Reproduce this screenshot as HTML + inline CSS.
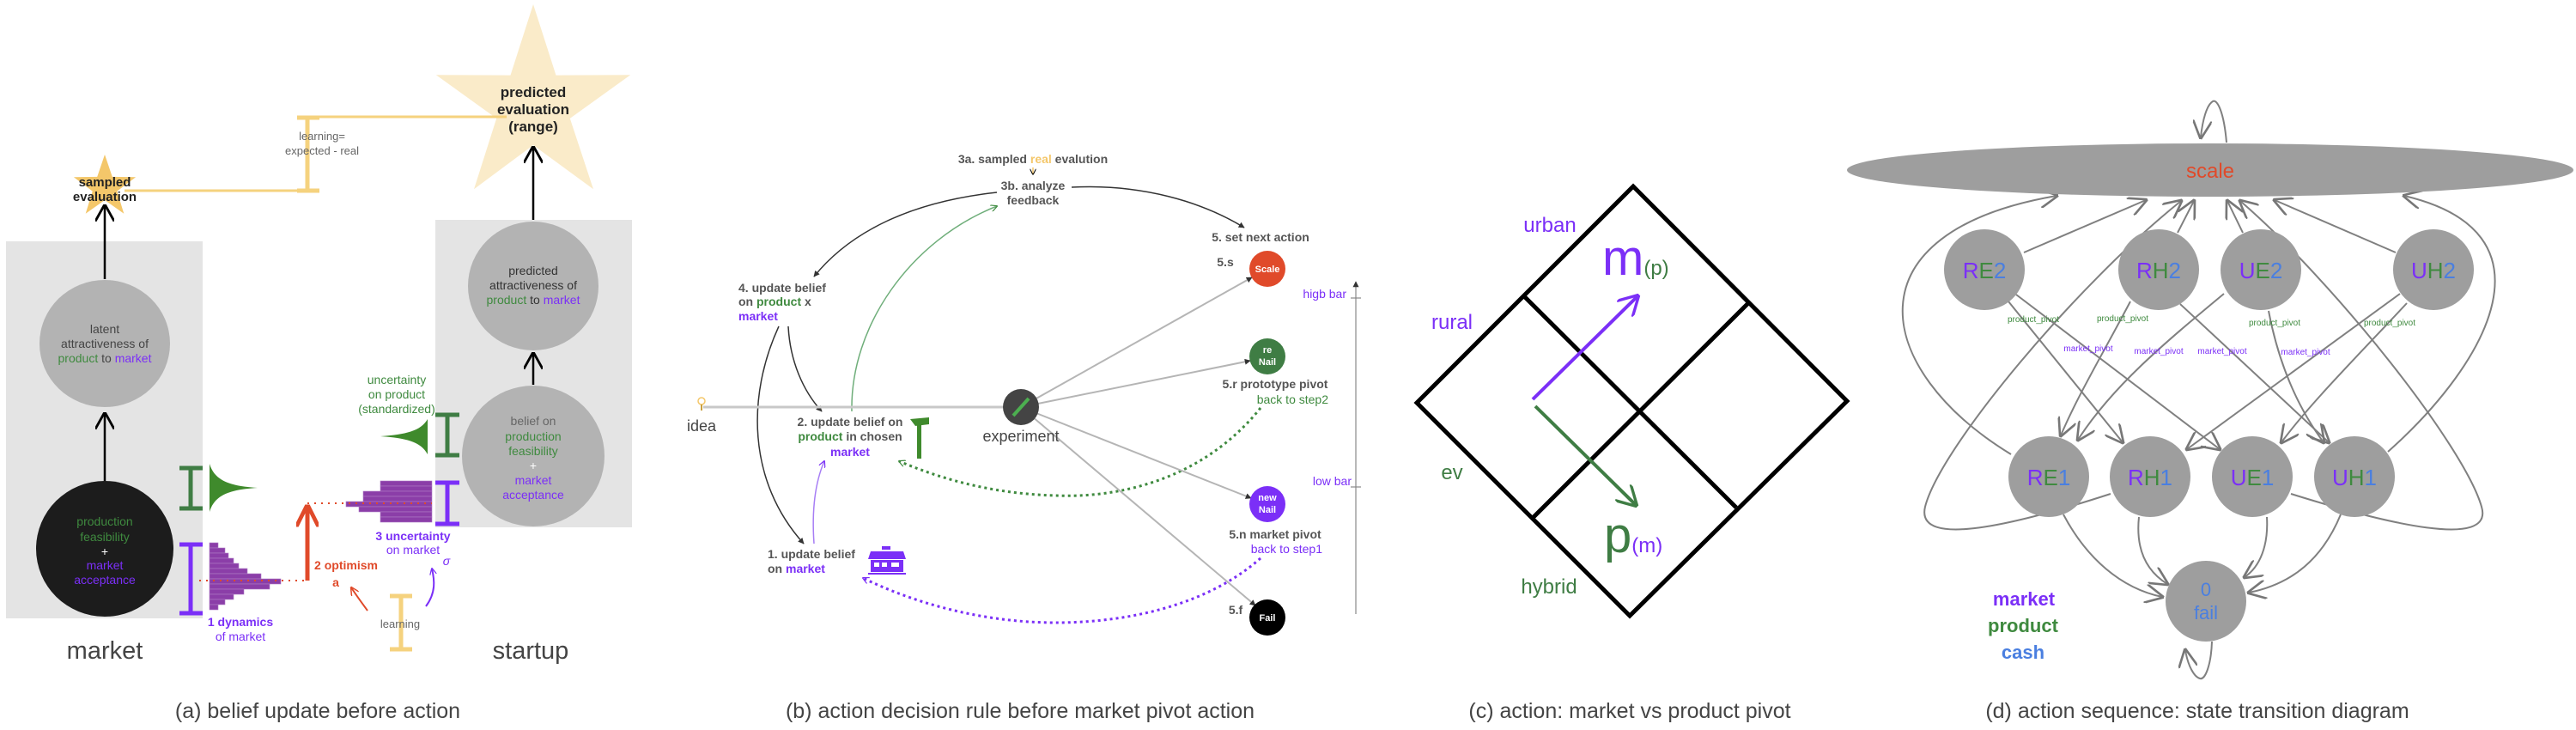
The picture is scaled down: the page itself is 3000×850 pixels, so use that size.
<!DOCTYPE html>
<html><head><meta charset="utf-8"><style>
html,body{margin:0;padding:0;background:#fff;width:3000px;height:850px;overflow:hidden}
svg{display:block}
text{font-family:"Liberation Sans",sans-serif}
</style></head><body>
<svg width="3000" height="850" viewBox="0 0 3000 850" xmlns="http://www.w3.org/2000/svg">
<defs>
<marker id="ab" viewBox="0 0 10 10" refX="9" refY="5" markerWidth="7" markerHeight="7" orient="auto-start-reverse" markerUnits="userSpaceOnUse"><path d="M0,0 L10,5 L0,10" fill="none" stroke="#000" stroke-width="1.5"/></marker>
<marker id="abig" viewBox="0 0 10 10" refX="9" refY="5" markerWidth="22" markerHeight="22" orient="auto" markerUnits="userSpaceOnUse"><path d="M1,0 L10,5 L1,10" fill="none" stroke="#000" stroke-width="1.3"/></marker>
<marker id="ag" viewBox="0 0 10 10" refX="9" refY="5" markerWidth="22" markerHeight="22" orient="auto" markerUnits="userSpaceOnUse"><path d="M0,0 L10,5 L0,10" fill="none" stroke="#777" stroke-width="1.2"/></marker>
<marker id="agr" viewBox="0 0 10 10" refX="9" refY="5" markerWidth="8" markerHeight="8" orient="auto" markerUnits="userSpaceOnUse"><path d="M0,0 L10,5 L0,10" fill="none" stroke="#3f8a3f" stroke-width="1.5"/></marker>
<marker id="apu" viewBox="0 0 10 10" refX="9" refY="5" markerWidth="8" markerHeight="8" orient="auto" markerUnits="userSpaceOnUse"><path d="M0,0 L10,5 L0,10" fill="none" stroke="#7b2ff7" stroke-width="1.5"/></marker>
<marker id="ared" viewBox="0 0 10 10" refX="9" refY="5" markerWidth="10" markerHeight="10" orient="auto" markerUnits="userSpaceOnUse"><path d="M0,0 L10,5 L0,10" fill="none" stroke="#e04a2a" stroke-width="1.5"/></marker>
<marker id="aredbig" viewBox="0 0 10 10" refX="9" refY="5" markerWidth="26" markerHeight="26" orient="auto" markerUnits="userSpaceOnUse"><path d="M0,0 L10,5 L0,10" fill="none" stroke="#e04a2a" stroke-width="1.8"/></marker>
<marker id="agc" viewBox="0 0 10 10" refX="9" refY="5" markerWidth="26" markerHeight="26" orient="auto" markerUnits="userSpaceOnUse"><path d="M1,0 L10,5 L1,10" fill="none" stroke="#3f7d44" stroke-width="1.3"/></marker>
<marker id="apc" viewBox="0 0 10 10" refX="9" refY="5" markerWidth="26" markerHeight="26" orient="auto" markerUnits="userSpaceOnUse"><path d="M1,0 L10,5 L1,10" fill="none" stroke="#7b2ff7" stroke-width="1.3"/></marker>
<marker id="agray" viewBox="0 0 10 10" refX="9" refY="5" markerWidth="7" markerHeight="7" orient="auto" markerUnits="userSpaceOnUse"><path d="M0,0 L10,5 L0,10 Z" fill="#333"/></marker>
</defs>

<!-- ================= PANEL A ================= -->
<rect x="7" y="281" width="229" height="439" fill="#e4e4e4"/>
<rect x="507" y="256" width="229" height="358" fill="#e4e4e4"/>
<polygon points="621,5 647.5,87.6 734.2,87.2 663.8,137.9 691,220.3 621,169 552,220.3 578.2,137.9 507.8,87.2 594.5,87.6" fill="#faebc9"/>
<polygon points="122,180 130.8,205.9 158.1,206.3 136.3,222.6 144.3,248.7 122,233 99.7,248.7 107.7,222.6 85.9,206.3 113.2,205.9" fill="#f4c76a"/>
<g stroke="#f5d27e" stroke-width="3" fill="none">
<line x1="145" y1="222" x2="358" y2="222"/>
<line x1="358" y1="136" x2="590" y2="136"/>
<line x1="358" y1="136" x2="358" y2="222" stroke-width="5"/>
<line x1="346" y1="137" x2="372" y2="137" stroke-width="5"/>
<line x1="346" y1="222" x2="372" y2="222" stroke-width="5"/>
<line x1="467" y1="693" x2="467" y2="757" stroke-width="5"/>
<line x1="454" y1="694" x2="480" y2="694" stroke-width="5"/>
<line x1="454" y1="756" x2="480" y2="756" stroke-width="5"/>
</g>
<text x="375" y="163" font-size="13" fill="#666" text-anchor="middle">learning=</text>
<text x="375" y="180" font-size="13" fill="#666" text-anchor="middle">expected - real</text>
<text x="122" y="217" font-size="15" font-weight="bold" fill="#222" text-anchor="middle">sampled</text>
<text x="122" y="234" font-size="15" font-weight="bold" fill="#222" text-anchor="middle">evaluation</text>
<g font-size="17" font-weight="bold" fill="#222" text-anchor="middle">
<text x="621" y="113">predicted</text><text x="621" y="133">evaluation</text><text x="621" y="153">(range)</text></g>
<g stroke="#000" stroke-width="2.5">
<line x1="122" y1="325" x2="122" y2="240" marker-end="url(#abig)"/>
<line x1="122" y1="561" x2="122" y2="482" marker-end="url(#abig)"/>
<line x1="621" y1="256" x2="621" y2="172" marker-end="url(#abig)"/>
<line x1="621" y1="448" x2="621" y2="412" marker-end="url(#abig)"/>
</g>
<ellipse cx="122" cy="400" rx="76" ry="74" fill="#b3b3b3"/>
<g font-size="14" text-anchor="middle" fill="#444">
<text x="122" y="388">latent</text><text x="122" y="405">attractiveness of</text>
<text x="122" y="422"><tspan fill="#3f8a3f">product</tspan> to <tspan fill="#7b2ff7">market</tspan></text></g>
<ellipse cx="122" cy="639" rx="80" ry="79" fill="#1c1c1c"/>
<g font-size="14" text-anchor="middle">
<text x="122" y="612" fill="#3f8a3f">production</text><text x="122" y="630" fill="#3f8a3f">feasibility</text>
<text x="122" y="647" fill="#fff">+</text><text x="122" y="663" fill="#7b2ff7">market</text><text x="122" y="680" fill="#7b2ff7">acceptance</text></g>
<ellipse cx="621" cy="333" rx="76" ry="75" fill="#b3b3b3"/>
<g font-size="14" text-anchor="middle" fill="#333">
<text x="621" y="320">predicted</text><text x="621" y="337">attractiveness of</text>
<text x="621" y="354"><tspan fill="#3f8a3f">product</tspan> to <tspan fill="#7b2ff7">market</tspan></text></g>
<ellipse cx="621" cy="531" rx="83" ry="82" fill="#b3b3b3"/>
<g font-size="14" text-anchor="middle">
<text x="621" y="495" fill="#666">belief on</text><text x="621" y="513" fill="#3f8a3f">production</text>
<text x="621" y="530" fill="#3f8a3f">feasibility</text><text x="621" y="547" fill="#fff">+</text>
<text x="621" y="564" fill="#7b2ff7">market</text><text x="621" y="581" fill="#7b2ff7">acceptance</text></g>
<g stroke-width="5" fill="none">
<path d="M209,545 H236 M222,545 V592 M209,592 H236" stroke="#3f7d44"/>
<path d="M209,634 H236 M222,634 V714 M209,714 H236" stroke="#7b2ff7"/>
<path d="M507,483 H535 M521,483 V530 M507,530 H535" stroke="#3f7d44"/>
<path d="M507,562 H535 M521,562 V610 M507,610 H535" stroke="#7b2ff7"/>
</g>
<path d="M244,540 C250,560 268,566 300,568 C268,570 250,576 244,596 Z" fill="#3f8a2c"/>
<path d="M498,488 C490,502 472,506 443,508 C472,510 490,514 498,529 Z" fill="#3f8a2c"/>
<g fill="#8b3ea8" stroke="#b07cc6" stroke-width="0.6">
<rect x="244" y="632" width="10" height="6"/><rect x="244" y="638" width="18" height="6"/>
<rect x="244" y="644" width="22" height="6"/><rect x="244" y="650" width="28" height="6"/>
<rect x="244" y="656" width="34" height="6"/><rect x="244" y="662" width="44" height="6"/>
<rect x="244" y="668" width="60" height="6"/><rect x="244" y="674" width="83" height="6"/>
<rect x="244" y="680" width="70" height="6"/><rect x="244" y="686" width="40" height="6"/>
<rect x="244" y="692" width="28" height="6"/><rect x="244" y="698" width="18" height="6"/>
<rect x="244" y="704" width="10" height="6"/>
<rect x="443" y="560" width="60" height="6"/><rect x="443" y="566" width="60" height="6"/>
<rect x="423" y="572" width="80" height="6"/><rect x="423" y="578" width="80" height="6"/>
<rect x="403" y="584" width="100" height="6"/><rect x="418" y="590" width="85" height="6"/>
<rect x="443" y="596" width="60" height="6"/><rect x="443" y="602" width="60" height="6"/>
</g>
<g stroke="#e04a2a" stroke-width="2" stroke-dasharray="2,6" fill="none">
<line x1="232" y1="676" x2="358" y2="676"/><line x1="358" y1="586" x2="503" y2="586"/></g>
<line x1="358" y1="676" x2="358" y2="590" stroke="#e04a2a" stroke-width="5" marker-end="url(#aredbig)"/>
<path d="M428,711 C420,700 414,692 409,684" stroke="#e04a2a" stroke-width="2" fill="none" marker-end="url(#ared)"/>
<path d="M496,706 C508,690 506,675 503,662" stroke="#7b2ff7" stroke-width="2" fill="none" marker-end="url(#apu)"/>
<g font-size="14" text-anchor="middle">
<text x="462" y="447" fill="#3f8a3f">uncertainty</text><text x="462" y="464" fill="#3f8a3f">on product</text><text x="462" y="481" fill="#3f8a3f">(standardized)</text>
<text x="481" y="629" fill="#7b2ff7" font-weight="bold">3 uncertainty</text><text x="481" y="645" fill="#7b2ff7">on market</text>
<text x="520" y="658" fill="#7b2ff7" font-style="italic">σ</text>
<text x="403" y="663" fill="#e04a2a" font-weight="bold">2 optimism</text><text x="391" y="683" fill="#e04a2a" font-weight="bold">a</text>
<text x="280" y="729" fill="#7b2ff7" font-weight="bold">1 dynamics</text><text x="280" y="746" fill="#7b2ff7">of market</text>
<text x="466" y="731" fill="#666" font-size="13">learning</text></g>
<text x="122" y="767" font-size="29" fill="#444" text-anchor="middle">market</text>
<text x="618" y="767" font-size="29" fill="#444" text-anchor="middle">startup</text>
<text x="370" y="836" font-size="25" fill="#444" text-anchor="middle">(a) belief update before action</text>

<!-- ================= PANEL B ================= -->
<g font-size="14" font-weight="bold" fill="#555" text-anchor="middle">
<text x="1203" y="190">3a. sampled <tspan fill="#f4c76a">real</tspan> evalution</text>
<text x="1203" y="221">3b. analyze</text><text x="1203" y="238">feedback</text>
<text x="1468" y="281">5. set next action</text>
</g>
<path d="M1203,195 V203" stroke="#f4c76a" stroke-width="1.5" marker-end="url(#ab)"/>
<g fill="none" stroke-width="1.5">
<path d="M1248,218 C1330,214 1400,235 1449,265" stroke="#333" marker-end="url(#agray)"/>
<path d="M1161,224 C1060,235 990,270 948,322" stroke="#333" marker-end="url(#agray)"/>
<path d="M992,479 C990,380 1060,280 1161,240" stroke="#6fae7a" marker-end="url(#agr)"/>
<path d="M918,380 C920,420 935,455 957,479" stroke="#333" marker-end="url(#agray)"/>
<path d="M907,380 C870,460 870,560 936,633" stroke="#333" marker-end="url(#agray)"/>
<path d="M948,633 C945,590 950,560 960,537" stroke="#a77ef5" marker-end="url(#apu)"/>
</g>
<g fill="none" stroke-width="3" stroke-dasharray="3,4">
<path d="M1468,475 C1400,560 1300,580 1230,577 C1150,575 1090,555 1047,537" stroke="#3f8a3f" marker-end="url(#agr)"/>
<path d="M1468,650 C1400,710 1300,725 1230,725 C1140,725 1060,700 1005,673" stroke="#7b2ff7" marker-end="url(#apu)"/>
</g>
<line x1="819" y1="474" x2="1169" y2="474" stroke="#c8c8c8" stroke-width="3"/>
<g stroke="#b5b5b5" stroke-width="2">
<line x1="1189" y1="474" x2="1458" y2="323" marker-end="url(#agray)"/>
<line x1="1189" y1="474" x2="1456" y2="420" marker-end="url(#agray)"/>
<line x1="1189" y1="474" x2="1457" y2="580" marker-end="url(#agray)"/>
<line x1="1189" y1="474" x2="1462" y2="705" marker-end="url(#agray)"/>
</g>
<circle cx="817" cy="467" r="4" fill="none" stroke="#f4c76a" stroke-width="1.5"/>
<line x1="817" y1="471" x2="817" y2="478" stroke="#c8a040" stroke-width="2"/>
<text x="817" y="502" font-size="18" fill="#444" text-anchor="middle">idea</text>
<circle cx="1189" cy="474" r="21" fill="#444"/>
<line x1="1180" y1="484" x2="1198" y2="464" stroke="#4caf50" stroke-width="4"/>
<text x="1189" y="514" font-size="18" fill="#444" text-anchor="middle">experiment</text>
<g font-size="14" font-weight="bold" fill="#555">
<text x="860" y="340">4. update belief</text>
<text x="860" y="356">on <tspan fill="#3f8a3f">product</tspan> x</text>
<text x="860" y="373" fill="#7b2ff7">market</text>
<text x="990" y="496" text-anchor="middle">2. update belief on</text>
<text x="990" y="513" text-anchor="middle"><tspan fill="#3f8a3f">product</tspan> in chosen</text>
<text x="990" y="531" text-anchor="middle" fill="#7b2ff7">market</text>
<text x="894" y="650">1. update belief</text>
<text x="894" y="667">on <tspan fill="#7b2ff7">market</tspan></text>
</g>
<rect x="1068" y="492" width="5" height="42" fill="#3f8a2c"/>
<path d="M1060,488 L1082,486 L1082,494 L1066,496 Z" fill="#3f8a2c"/>
<g fill="#7b2ff7"><rect x="1027" y="636" width="10" height="4"/><path d="M1014,642 H1052 L1055,651 H1011 Z"/>
<rect x="1014" y="652" width="38" height="14"/><rect x="1011" y="667" width="44" height="2"/></g>
<g fill="#fff"><rect x="1018" y="655" width="6" height="5"/><rect x="1027" y="655" width="6" height="5"/><rect x="1038" y="655" width="9" height="5"/></g>
<circle cx="1476" cy="313" r="21" fill="#e04a2a"/>
<text x="1476" y="317" font-size="11" font-weight="bold" fill="#fff" text-anchor="middle">Scale</text>
<circle cx="1476" cy="415" r="21" fill="#3f7d44"/>
<text x="1476" y="411" font-size="11" font-weight="bold" fill="#fff" text-anchor="middle">re</text>
<text x="1476" y="425" font-size="11" font-weight="bold" fill="#fff" text-anchor="middle">Nail</text>
<circle cx="1476" cy="587" r="21" fill="#7b2ff7"/>
<text x="1476" y="583" font-size="11" font-weight="bold" fill="#fff" text-anchor="middle">new</text>
<text x="1476" y="597" font-size="11" font-weight="bold" fill="#fff" text-anchor="middle">Nail</text>
<circle cx="1476" cy="719" r="21" fill="#000"/>
<text x="1476" y="723" font-size="11" font-weight="bold" fill="#fff" text-anchor="middle">Fail</text>
<g font-size="14" font-weight="bold" fill="#555">
<text x="1427" y="310" text-anchor="middle">5.s</text>
<text x="1439" y="715" text-anchor="middle">5.f</text>
<text x="1485" y="452" text-anchor="middle">5.r prototype pivot</text>
<text x="1547" y="470" text-anchor="end" fill="#3f8a3f" font-weight="normal">back to step2</text>
<text x="1485" y="627" text-anchor="middle">5.n market pivot</text>
<text x="1540" y="644" text-anchor="end" fill="#7b2ff7" font-weight="normal">back to step1</text>
</g>
<line x1="1579" y1="715" x2="1579" y2="328" stroke="#888" stroke-width="1.2" marker-end="url(#agray)"/>
<line x1="1573" y1="347" x2="1585" y2="347" stroke="#888" stroke-width="1.2"/>
<line x1="1573" y1="567" x2="1585" y2="567" stroke="#888" stroke-width="1.2"/>
<text x="1568" y="347" font-size="14" fill="#7b2ff7" text-anchor="end">higb bar</text>
<text x="1574" y="565" font-size="14" fill="#7b2ff7" text-anchor="end">low bar</text>
<text x="1188" y="836" font-size="25" fill="#444" text-anchor="middle">(b) action decision rule before market pivot action</text>

<!-- ================= PANEL C ================= -->
<g stroke="#000" stroke-width="5" fill="none" stroke-linejoin="miter">
<polygon points="1902,217 2151,467 1898,717 1650,469"/>
<line x1="1774" y1="344" x2="2022" y2="591"/>
<line x1="1786" y1="602" x2="2036" y2="353"/>
</g>
<line x1="1785" y1="465" x2="1907" y2="345" stroke="#7b2ff7" stroke-width="4" marker-end="url(#apc)"/>
<line x1="1788" y1="473" x2="1905" y2="588" stroke="#3f7d44" stroke-width="4" marker-end="url(#agc)"/>
<g font-size="24">
<text x="1805" y="270" fill="#7b2ff7" text-anchor="middle">urban</text>
<text x="1691" y="383" fill="#7b2ff7" text-anchor="middle">rural</text>
<text x="1691" y="558" fill="#3f7d44" text-anchor="middle">ev</text>
<text x="1804" y="691" fill="#3f7d44" text-anchor="middle">hybrid</text>
</g>
<text x="1866" y="320" font-size="58" fill="#7b2ff7">m<tspan font-size="24" fill="#3f7d44">(p)</tspan></text>
<text x="1868" y="643" font-size="58" fill="#3f7d44">p<tspan font-size="24" fill="#7b2ff7">(m)</tspan></text>
<text x="1898" y="836" font-size="25" fill="#444" text-anchor="middle">(c) action: market vs product pivot</text>

<!-- ================= PANEL D ================= -->
<g stroke="#808080" stroke-width="2" fill="none">
<path d="M2593,166 C2590,130 2582,115 2577,118 C2570,122 2565,140 2563,160" marker-end="url(#ag)"/>
<path d="M2357,294 L2499,233" marker-end="url(#ag)"/>
<path d="M2536,271 L2555,234" marker-end="url(#ag)"/>
<path d="M2612,271 L2594,234" marker-end="url(#ag)"/>
<path d="M2790,294 L2649,233" marker-end="url(#ag)"/>
<path d="M2342,529 C2180,430 2150,270 2395,228" marker-end="url(#ag)"/>
<path d="M2458,575 C2350,610 2230,640 2242,590 C2260,520 2420,330 2540,234" marker-end="url(#ag)"/>
<path d="M2668,575 C2780,610 2905,640 2890,590 C2870,520 2720,330 2609,234" marker-end="url(#ag)"/>
<path d="M2781,526 C2900,420 2980,270 2800,228" marker-end="url(#ag)"/>
<path d="M2339,351 L2472,515" marker-end="url(#ag)"/>
<path d="M2348,343 L2585,523" marker-end="url(#ag)"/>
<path d="M2481,351 C2450,410 2420,460 2400,507" marker-end="url(#ag)"/>
<path d="M2539,354 L2712,515" marker-end="url(#ag)"/>
<path d="M2590,342 C2520,400 2460,450 2420,512" marker-end="url(#ag)"/>
<path d="M2642,362 C2655,430 2680,480 2706,515" marker-end="url(#ag)"/>
<path d="M2795,342 L2547,523" marker-end="url(#ag)"/>
<path d="M2803,353 C2750,410 2690,470 2657,515" marker-end="url(#ag)"/>
<path d="M2403,599 C2430,650 2470,685 2518,695" marker-end="url(#ag)"/>
<path d="M2491,602 C2487,640 2500,665 2524,680" marker-end="url(#ag)"/>
<path d="M2640,602 C2642,635 2632,660 2614,672" marker-end="url(#ag)"/>
<path d="M2726,599 C2705,650 2670,680 2619,690" marker-end="url(#ag)"/>
<path d="M2576,747 C2575,775 2568,792 2562,790 C2555,788 2548,775 2545,757" marker-end="url(#ag)"/>
</g>
<ellipse cx="2574" cy="198" rx="423" ry="31" fill="#9e9e9e"/>
<text x="2574" y="207" font-size="24" fill="#e04a2a" text-anchor="middle">scale</text>
<g fill="#9e9e9e">
<circle cx="2311" cy="314" r="47"/><circle cx="2514" cy="314" r="47"/><circle cx="2633" cy="314" r="47"/><circle cx="2834" cy="314" r="47"/>
<circle cx="2386" cy="555" r="47"/><circle cx="2504" cy="555" r="47"/><circle cx="2623" cy="555" r="47"/><circle cx="2742" cy="555" r="47"/>
<circle cx="2569" cy="700" r="47"/></g>
<g font-size="26" text-anchor="middle">
<text x="2311" y="324"><tspan fill="#7b2ff7">R</tspan><tspan fill="#3f8a3f">E</tspan><tspan fill="#4a7fe0">2</tspan></text>
<text x="2514" y="324"><tspan fill="#7b2ff7">R</tspan><tspan fill="#3f8a3f">H</tspan><tspan fill="#4a7fe0">2</tspan></text>
<text x="2633" y="324"><tspan fill="#7b2ff7">U</tspan><tspan fill="#3f8a3f">E</tspan><tspan fill="#4a7fe0">2</tspan></text>
<text x="2834" y="324"><tspan fill="#7b2ff7">U</tspan><tspan fill="#3f8a3f">H</tspan><tspan fill="#4a7fe0">2</tspan></text>
<text x="2386" y="565"><tspan fill="#7b2ff7">R</tspan><tspan fill="#3f8a3f">E</tspan><tspan fill="#4a7fe0">1</tspan></text>
<text x="2504" y="565"><tspan fill="#7b2ff7">R</tspan><tspan fill="#3f8a3f">H</tspan><tspan fill="#4a7fe0">1</tspan></text>
<text x="2623" y="565"><tspan fill="#7b2ff7">U</tspan><tspan fill="#3f8a3f">E</tspan><tspan fill="#4a7fe0">1</tspan></text>
<text x="2742" y="565"><tspan fill="#7b2ff7">U</tspan><tspan fill="#3f8a3f">H</tspan><tspan fill="#4a7fe0">1</tspan></text>
</g>
<text x="2569" y="694" font-size="22" fill="#4a7fe0" text-anchor="middle">0</text>
<text x="2569" y="721" font-size="22" fill="#4a7fe0" text-anchor="middle">fail</text>
<g font-size="10" text-anchor="middle">
<text x="2368" y="375" fill="#3f8a3f">product_pivot</text><text x="2472" y="374" fill="#3f8a3f">product_pivot</text>
<text x="2649" y="379" fill="#3f8a3f">product_pivot</text><text x="2783" y="379" fill="#3f8a3f">product_pivot</text>
<text x="2432" y="409" fill="#7b2ff7">market_pivot</text><text x="2514" y="412" fill="#7b2ff7">market_pivot</text>
<text x="2588" y="412" fill="#7b2ff7">market_pivot</text><text x="2685" y="413" fill="#7b2ff7">market_pivot</text>
</g>
<g font-size="22" font-weight="bold" text-anchor="middle">
<text x="2357" y="705" fill="#7b2ff7">market</text><text x="2356" y="736" fill="#3f8a3f">product</text><text x="2356" y="767" fill="#4a7fe0">cash</text></g>
<text x="2559" y="836" font-size="25" fill="#444" text-anchor="middle">(d) action sequence: state transition diagram</text>
</svg>
</body></html>
